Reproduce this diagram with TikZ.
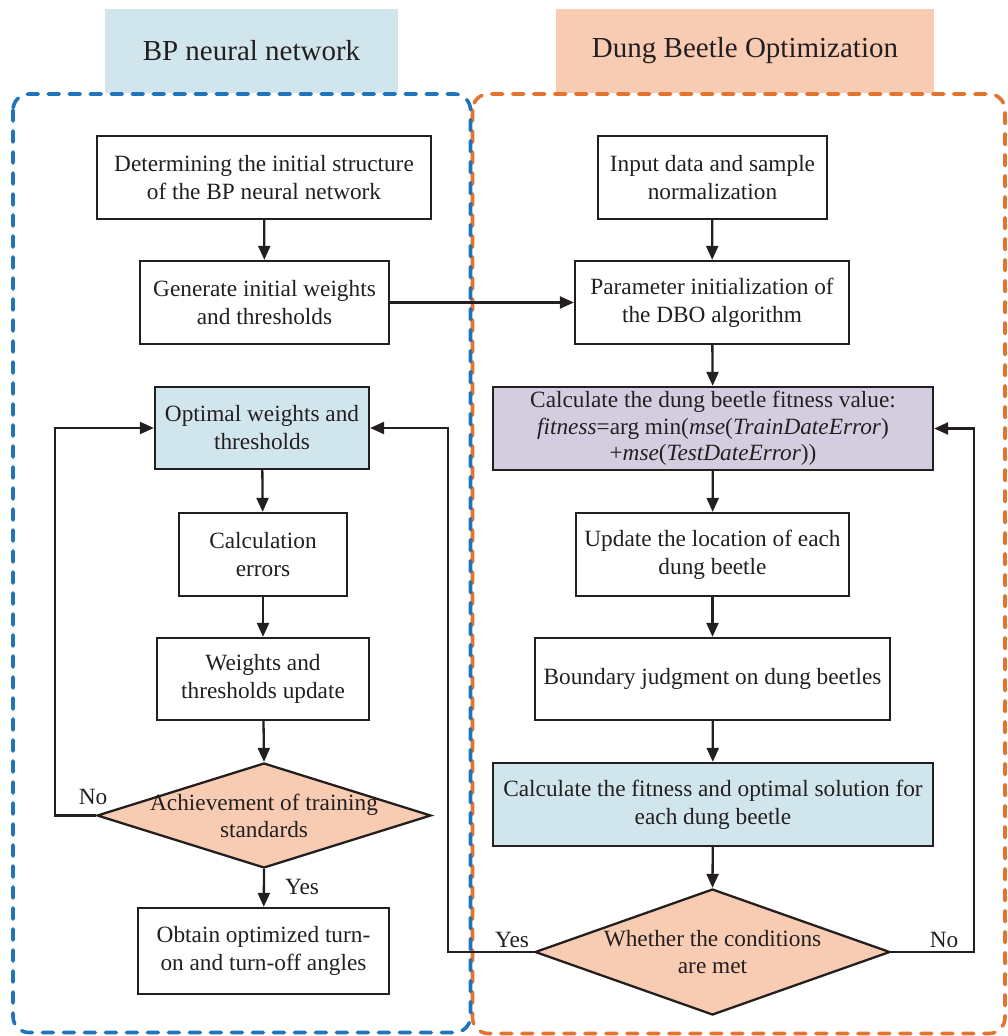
\documentclass[tikz,border=0pt]{standalone}
\usepackage{fontspec}
\setmainfont{Liberation Serif}
\usetikzlibrary{shapes.geometric,arrows.meta}
\definecolor{hdrblue}{HTML}{D0E6EC}
\definecolor{hdrorange}{HTML}{F8CCB2}
\definecolor{boxpurple}{HTML}{D3CDE0}
\definecolor{dashblue}{HTML}{1F74BA}
\definecolor{dashorange}{HTML}{E3742F}
\definecolor{ink}{HTML}{231F20}
\tikzset{
  stepbox/.style={draw=ink, text=ink, line width=2.3pt, minimum height=83, align=center, inner sep=2pt, font=\fontsize{23.3}{28}\selectfont},
  decision/.style={diamond, draw=ink, line width=2.3pt, inner sep=0pt, fill=hdrorange},
  decisiontext/.style={align=center, text=ink, font=\fontsize{23.3}{27}\selectfont},
  header/.style={minimum height=84, inner sep=0pt, text=ink, font=\fontsize{29}{34}\selectfont},
  flow/.style={line width=2.3pt, draw=ink, -{Triangle[length=14pt,width=12pt]}},
  lbl/.style={font=\fontsize{23.3}{27}\selectfont, text=ink, inner sep=1pt},
  region/.style={line width=3.6pt, dash pattern=on 11pt off 10pt, line cap=round, rounded corners=16pt}
}
\begin{document}
\begin{tikzpicture}[x=1pt,y=-1pt]
\useasboundingbox (0,0) rectangle (1007,1036);
% headers
\node[header, fill=hdrblue, minimum width=293] (hbp) at (251.5,50.5) {BP neural network};
\node[header, fill=hdrorange, minimum width=378] (hdbo) at (745,50.5) {Dung Beetle Optimization};
% regions
\draw[region, dashorange] (472.5,94) rectangle (1005,1033.5);
\draw[region, dashblue] (13,94) rectangle (470.5,1032.5);
% left column
\node[stepbox, minimum width=334] (l1) at (264,177.5) {Determining the initial structure\\of the BP neural network};
\node[stepbox, minimum width=249] (l2) at (264.5,302.5) {Generate initial weights\\and thresholds};
\node[stepbox, minimum width=214, minimum height=82, fill=hdrblue] (l3) at (262,428) {Optimal weights and\\thresholds};
\node[stepbox, minimum width=168] (l4) at (263,554.5) {Calculation\\errors};
\node[stepbox, minimum width=212, minimum height=82] (l5) at (263,679) {Weights and\\thresholds update};
\node[decision, minimum width=334, minimum height=105] (l6) at (264,815.5) {};
\node[decisiontext] (l6t) at (264,815.5) {Achievement of training\\standards};
\node[stepbox, minimum width=251, minimum height=86] (l7) at (263.5,951) {Obtain optimized turn-\\on and turn-off angles};
% right column
\node[stepbox, minimum width=229] (r1) at (712.5,177.5) {Input data and sample\\normalization};
\node[stepbox, minimum width=274] (r2) at (712,302.5) {Parameter initialization of\\the DBO algorithm};
\node[stepbox, minimum width=440, fill=boxpurple, font=\fontsize{23.3}{26.5}\selectfont] (r3) at (713,428.5) {Calculate the dung beetle fitness value:\\\textit{fitness}=arg min(\textit{mse}(\textit{TrainDateError})\\+\textit{mse}(\textit{TestDateError}))};
\node[stepbox, minimum width=273] (r4) at (712.5,554.5) {Update the location of each\\dung beetle};
\node[stepbox, minimum width=355, minimum height=82] (r5) at (712.5,679) {Boundary judgment on dung beetles};
\node[stepbox, minimum width=440, fill=hdrblue] (r6) at (713,804.5) {Calculate the fitness and optimal solution for\\each dung beetle};
\node[decision, minimum width=355, minimum height=126] (r7) at (712.5,952) {};
\node[decisiontext] (r7t) at (712.5,952) {Whether the conditions\\are met};
% loop corner coordinates
\coordinate (lnoc) at (55,815.5);
\coordinate (ryesc) at (448,952);
\coordinate (rnoc) at (974,952);
% left flow
\draw[flow] (l1) -- (l2);
\draw[flow] (l3) -- (l4);
\draw[flow] (l4) -- (l5);
\draw[flow] (l5) -- (l6.north);
\draw[flow] (l6.south) -- (l7);
\draw[flow] (l6.west) -- (lnoc) |- (l3.west);
% right flow
\draw[flow] (r1) -- (r2);
\draw[flow] (r2) -- (r3);
\draw[flow] (r3) -- (r4);
\draw[flow] (r4) -- (r5);
\draw[flow] (r5) -- (r6);
\draw[flow] (r6) -- (r7.north);
\draw[flow] (r7.west) -- (ryesc) |- (l3.east);
\draw[flow] (r7.east) -- (rnoc) |- (r3.east);
% cross link
\draw[flow] (l2.east) -- (r2.west);
% labels
\node[lbl] (lno) at (93,797) {No};
\node[lbl] (lyes) at (302,887) {Yes};
\node[lbl] (ryes) at (512,940) {Yes};
\node[lbl] (rno) at (944,940) {No};
\end{tikzpicture}
\end{document}
